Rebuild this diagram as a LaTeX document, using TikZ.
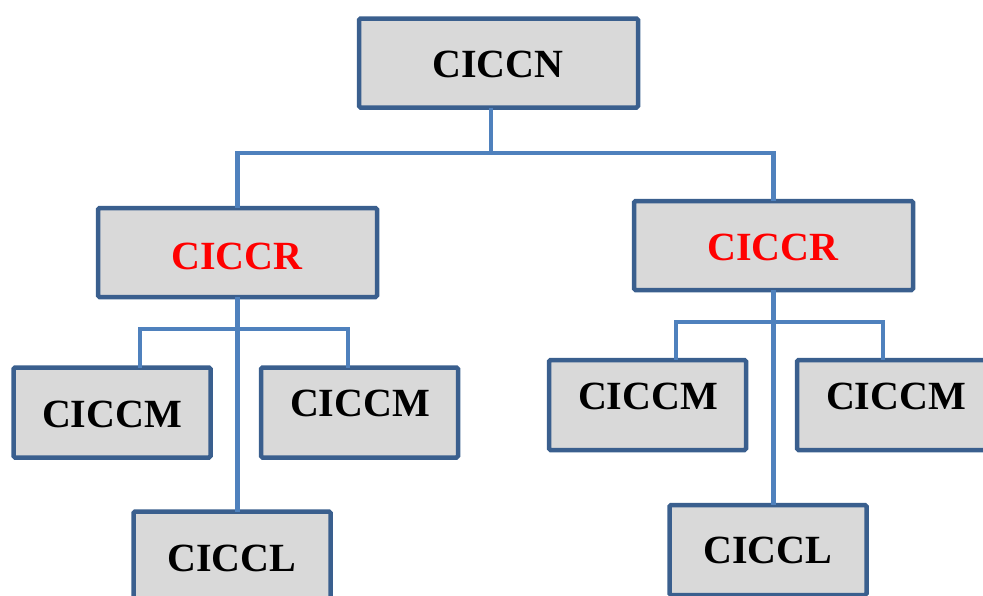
\documentclass[tikz,border=0pt]{standalone}
\usepackage{fontspec}
\setmainfont{Liberation Serif}
\definecolor{boxfill}{HTML}{D9D9D9}
\definecolor{boxline}{HTML}{3A5F8E}
\definecolor{conncol}{HTML}{4F81BD}
\definecolor{redtxt}{HTML}{FF0000}
\tikzset{
  unit/.style={draw=boxline, fill=boxfill, line width=4.5pt, rounded corners=1.5pt,
    inner sep=0pt, outer sep=0pt, minimum width=#1},
  unit/.default=279pt,
  bigbox/.style={unit=279pt, minimum height=89pt},
  smallbox/.style={unit=197pt, minimum height=90pt},
  lbl/.style={font=\fontsize{40}{40}\selectfont\bfseries, text=black, inner sep=0pt},
  redlbl/.style={lbl, text=redtxt},
  conn/.style={draw=conncol, line width=4.5pt}
}
\begin{document}
\begin{tikzpicture}[x=1pt, y=-1pt]
  \useasboundingbox (0,0) rectangle (983,595);
  \clip (0,0) rectangle (983,595);

  % bus lines
  \coordinate (topbus) at (491,153);
  \coordinate (lbusL) at (140,329);
  \coordinate (lbusR) at (348,329);
  \coordinate (rbusL) at (676,322);
  \coordinate (rbusR) at (883,322);

  % boxes
  \node[bigbox] (ciccn) at (498.5,63) {};
  \node[bigbox] (rl) at (237.5,252.5) {};
  \node[bigbox] (rr) at (773.5,245.5) {};
  \node[smallbox] (ml1) at (112,412.5) {};
  \node[smallbox] (ml2) at (359.5,412.5) {};
  \node[smallbox] (ll) at (232,556.5) {};
  \node[smallbox] (mr1) at (647.5,405) {};
  \node[smallbox] (mr2) at (895.5,405) {};
  \node[smallbox] (lr) at (768,550) {};

  % connectors
  \draw[conn] (ciccn.south -| topbus) -- (topbus);
  \draw[conn] (rl.north) -- (rl.north |- topbus) -- (rr.north |- topbus) -- (rr.north);
  \draw[conn] (rl.south) -- (rl.south |- ll.north);
  \draw[conn] (lbusL |- ml1.north) -- (lbusL) -- (lbusR) -- (lbusR |- ml2.north);
  \draw[conn] (rr.south) -- (rr.south |- lr.north);
  \draw[conn] (rbusL |- mr1.north) -- (rbusL) -- (rbusR) -- (rbusR |- mr2.north);

  % labels
  \node[lbl] (tciccn) at (498,64) {CICCN};
  \node[redlbl] (trl) at (237,256) {CICCR};
  \node[redlbl] (trr) at (773,247) {CICCR};
  \node[lbl] (tml1) at (112,414) {CICCM};
  \node[lbl] (tml2) at (360,403) {CICCM};
  \node[lbl] (tll) at (232,558) {CICCL};
  \node[lbl] (tmr1) at (648,396) {CICCM};
  \node[lbl] (tmr2) at (896,396) {CICCM};
  \node[lbl] (tlr) at (768,550) {CICCL};
\end{tikzpicture}
\end{document}
